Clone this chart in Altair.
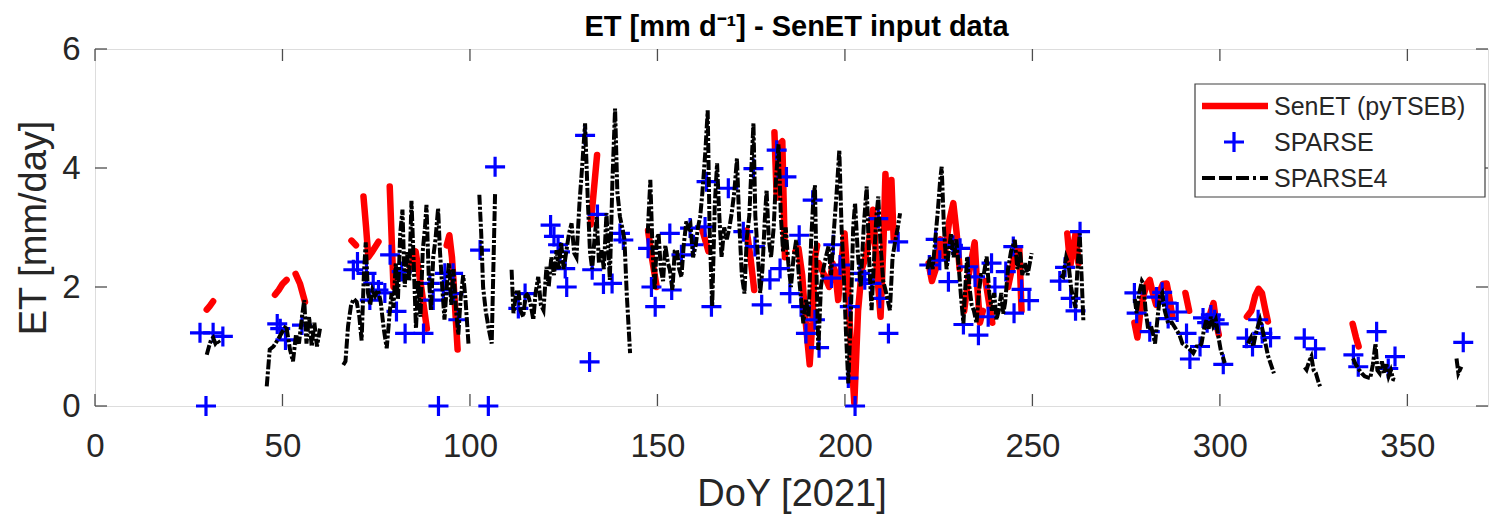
import altair as alt
import pandas as pd

# ---------------- data ----------------
# SPARSE4 (black dash-dot) segments: (DoY, ET mm/day)
s4_a = [(29.8,0.86),(30.4,1.0),(31.0,1.12),(31.5,1.15),(32.1,1.05),(32.7,1.1),(33.3,1.05)]
s4_b = [(45.8,0.33),(46.6,0.95),(47.6,1.0),(48.6,1.1),(50.0,1.25),(51.0,1.35),(52.0,0.95),(52.8,0.75),
        (53.6,1.2),(54.4,1.05),(55.2,1.5),(55.8,1.78),(56.4,1.05),(57.1,1.5),(57.8,1.0),(58.5,1.4),
        (59.2,1.0),(60.0,1.3)]
s4_c = [(66.2,0.69),(66.8,0.75),(67.5,1.35),(68.3,1.7),(69.0,1.8),(69.8,1.75),(70.5,1.5),(71.1,1.1),
        (71.7,2.2),(72.2,2.75),(72.8,1.9),(73.4,1.7),(74.0,1.95),(74.7,1.85),(75.5,1.95),(76.2,1.75),
        (77.0,1.3),(77.8,0.97),(78.5,1.5),(79.1,1.9),(79.6,1.65),(80.2,2.4),(80.8,1.8),(81.4,2.9),
        (82.0,3.3),(82.6,2.0),(83.2,2.6),(83.8,2.1),(84.4,3.45),(85.0,2.4),(85.6,1.3),(86.2,2.1),
        (86.8,1.5),(87.4,2.6),(88.0,3.0),(88.4,3.38),(89.0,2.2),(89.6,1.6),(90.2,2.5),(90.8,2.8),
        (91.5,3.32),(92.0,2.6),(92.6,2.0),(93.2,1.45),(93.8,2.0),(94.4,2.4),(95.0,1.7),(95.6,2.3),
        (96.3,1.6),(96.9,1.2),(97.5,1.8),(98.2,2.2),(98.8,1.8),(99.6,1.05)]
s4_d = [(102.5,3.55),(103.0,2.9),(103.5,2.0),(104.2,1.6),(105.0,1.3),(105.8,1.05),(106.2,2.2),(106.7,3.58)]
s4_e = [(111.1,2.29),(111.6,1.56),(112.3,1.9),(112.9,1.95),(113.5,1.6),(114.2,1.5),(114.9,1.9),
        (115.6,1.84),(116.2,1.7),(116.9,1.45),(117.5,1.9),(118.2,2.17),(118.9,1.7),(119.6,1.61),
        (120.4,2.34),(121.0,2.0),(121.7,2.5),(122.4,2.2),(123.1,2.62),(123.7,2.3),(124.3,2.75),
        (125.0,2.3),(125.7,2.6),(126.4,2.9),(127.1,3.07),(127.8,2.57),(128.4,2.5),(129.2,3.4),
        (130.0,4.1),(130.7,4.75),(131.4,3.5),(132.0,2.6),(132.6,2.3),(133.2,2.8),(133.8,3.18),
        (134.4,2.4),(135.1,2.62),(135.7,2.3),(136.4,3.24),(137.0,2.5),(137.3,2.12),(138.0,3.8),
        (138.7,5.0),(139.3,3.6),(140.0,3.18),(140.6,3.0),(141.2,2.8),(141.8,1.9),(142.7,0.89)]
s4_f = [(147.4,2.9),(148.1,3.8),(148.7,2.6),(149.3,1.95),(149.8,2.8),(150.3,2.9),(150.9,2.3),(151.5,2.1),
        (152.1,2.7),(152.8,2.4),(153.3,2.29),(154.0,1.95),(154.6,2.6),(155.2,2.62),(155.8,2.3),(156.4,2.17),
        (157.0,2.7),(157.7,3.1),(158.3,3.0),(158.8,3.05),(159.5,2.5),(160.2,2.7),(160.8,3.0),(161.4,3.18),
        (162.0,3.6),(162.8,4.3),(163.4,4.97),(163.9,3.0),(164.6,1.67),(165.3,3.4),(165.9,4.08),(166.5,3.2),
        (167.1,2.5),(167.8,3.0),(168.5,2.8),(169.2,3.0),(169.8,3.24),(170.5,3.6),(171.2,4.16),(171.8,3.1),
        (172.5,2.2),(173.2,1.89),(173.8,2.8),(174.5,3.2),(175.2,4.2),(175.6,4.75),(176.1,3.2),(176.8,2.5),
        (177.4,1.9),(178.0,2.3),(178.6,3.1),(179.1,3.63),(179.7,2.8),(180.3,2.5),(181.0,3.0),(181.6,3.8),
        (182.3,4.4),(182.9,3.2),(183.5,2.6),(184.2,3.0),(184.9,2.4),(185.6,2.0),(186.3,2.5),(187.0,2.79),
        (187.7,2.2),(188.3,1.8),(188.9,1.39),(189.6,1.8),(190.3,1.5),(191.0,2.8),(191.6,3.5),(192.0,3.71),
        (192.5,2.0),(192.9,0.94),(193.6,2.0),(194.2,2.29),(194.9,2.5),(195.6,2.68),(196.3,2.2),(197.0,2.9),
        (197.8,3.6),(198.5,4.3),(199.1,3.0),(199.7,2.2),(200.3,1.2),(200.9,0.38),(201.6,1.6),(202.2,3.0),
        (202.7,3.41),(203.4,2.6),(204.2,2.0),(205.0,3.0),(205.8,3.69),(206.5,2.4),(207.1,1.61),(207.8,2.5),
        (208.4,3.2),(208.9,3.52),(209.5,2.7),(210.2,2.1),(211.0,1.9),(212.0,1.61),(212.7,2.5),(213.5,2.8),
        (214.1,3.0),(214.7,3.24)]
s4_g = [(222.0,2.3),(222.7,2.5),(223.4,2.3),(224.1,2.8),(224.8,3.3),(225.4,3.8),(225.8,4.02),(226.4,3.0),
        (227.1,2.3),(227.7,2.6),(228.3,2.9),(229.0,2.5),(229.7,2.8),(230.4,2.3),(231.0,1.8),(231.6,1.39),
        (232.2,2.1),(232.6,2.51),(233.2,2.0),(233.8,1.7),(234.4,1.6),(235.1,1.39),(235.7,1.9),(236.3,2.2),
        (237.0,2.2),(237.8,2.51),(238.5,1.9),(239.2,1.6),(239.8,1.9),(240.4,1.45),(241.0,1.6),(241.7,1.9),
        (242.2,1.55),(242.7,1.73),(243.5,2.3),(244.3,2.6),(245.3,2.79),(246.0,2.3),(246.7,2.6),(247.3,2.2),
        (248.0,2.4),(248.7,2.2),(249.3,2.4),(249.8,2.57)]
s4_h = [(257.5,2.2),(258.2,2.17),(259.0,2.5),(259.6,2.4),(260.3,2.0),(260.9,1.8),(261.5,1.65),(262.0,2.3),
        (262.6,2.9),(263.1,2.2),(263.6,1.42)]
s4_i = [(277.3,1.8),(277.8,1.56),(278.5,1.9),(279.2,2.1),(279.6,2.06),(280.2,1.6),(280.9,1.28),(281.6,1.35),
        (282.2,1.2),(282.7,1.05),(283.4,1.5),(284.0,1.84),(284.6,1.9),(285.3,1.6),(286.2,1.39),(287.2,1.4),
        (288.4,1.28),(289.2,1.2),(290.0,1.05),(291.1,1.0),(292.0,0.95),(292.9,0.89),(293.8,1.0),(294.6,1.0),
        (295.1,1.05),(295.8,1.3),(296.4,1.45),(297.0,1.3),(297.6,1.5),(298.2,1.35),(298.9,1.45),(299.5,1.2),
        (300.2,0.95),(301.3,0.72)]
s4_j = [(307.5,1.05),(308.3,1.15),(308.9,1.0),(309.5,1.2),(310.2,1.35),(310.7,1.45),(311.3,1.3),(312.0,1.1),
        (312.8,0.85),(313.6,0.7),(314.4,0.55)]
s4_k = [(322.6,0.65),(323.1,0.61),(323.8,0.75),(324.4,0.83),(325.0,0.6),(325.6,0.55),(326.2,0.42),(326.7,0.33)]
s4_l = [(335.5,0.8),(336.2,0.7),(337.0,0.62),(337.8,0.55),(338.6,0.5),(339.4,0.48),(340.1,0.47),(340.8,0.7),
        (341.5,1.05),(342.0,0.6),(342.6,0.55),(343.2,0.75),(343.8,0.55),(344.4,0.7),(345.0,0.5),(345.6,0.6),
        (346.2,0.45),(346.7,0.44)]
s4_m = [(363.1,0.8),(363.6,0.55),(364.4,0.66)]

# SenET (pyTSEB) red segments
r01 = [(29.8,1.62),(30.6,1.68),(31.5,1.76)]
r02 = [(48.0,1.87),(49.0,1.95),(50.0,2.05),(51.1,2.12)]
r03 = [(53.5,2.22),(54.7,2.05),(56.0,1.75)]
r04 = [(68.4,2.78),(69.6,2.7)]
r05 = [(71.6,3.52),(72.3,3.0),(72.9,2.5),(74.0,2.6),(75.6,2.76)]
r06 = [(78.6,3.69),(79.6,2.0)]
r07 = [(84.0,2.3),(85.5,2.6),(87.0,2.0),(88.5,1.3)]
r08 = [(93.8,2.7),(94.5,2.87),(95.2,2.5),(95.9,1.8),(96.7,0.95)]
r09 = [(132.2,3.05),(133.9,4.22)]
r10 = [(147.5,2.95),(148.5,2.5),(149.8,2.0)]
r11 = [(162.0,2.95),(163.6,2.6)]
r12 = [(173.8,2.95),(174.8,2.5),(175.8,1.95)]
r13 = [(181.2,4.6),(181.8,3.5),(182.5,4.4),(183.3,4.45),(184.0,2.5)]
r14 = [(186.8,2.6),(187.6,2.65),(188.6,2.2),(189.4,1.5),(190.6,0.7),(191.3,1.4),(192.0,2.5),(192.6,2.7)]
r15 = [(193.0,2.4),(194.5,2.2),(195.8,2.0),(196.7,2.4),(197.5,2.2),(198.2,1.78),(199.2,2.5),(199.9,2.9),
       (200.8,2.0),(201.6,1.0),(202.5,0.05),(203.5,1.6),(204.5,2.3),(205.5,2.5),(206.5,2.8),(207.5,3.3),
       (208.5,2.3),(209.5,1.5),(210.3,2.8),(210.8,3.9),(211.6,3.0),(212.4,3.8),(213.0,2.8)]
r16 = [(222.3,2.4),(223.2,2.1),(224.2,2.3),(225.5,2.8),(226.5,2.5),(227.8,3.1),(228.9,3.41),(229.8,2.9),(230.6,2.3)]
r17 = [(231.8,1.6),(233.0,2.2),(234.6,2.75),(235.3,2.0),(236.0,1.4),(236.8,1.6)]
r18 = [(237.5,2.1),(238.5,1.7),(239.3,1.4)]
r19 = [(243.5,2.0),(244.5,2.3),(245.5,2.6),(246.5,2.65),(247.1,1.6)]
r20 = [(259.3,2.9),(260.1,2.35),(261.5,2.9),(262.3,2.4)]
r21 = [(277.2,1.4),(278.0,1.15),(278.8,1.6),(279.6,1.85),(280.5,2.05),(281.3,2.12),(282.1,1.9),(283.0,1.7),
       (283.8,1.9),(284.8,2.05),(285.8,2.06),(286.6,1.8),(287.3,1.5)]
r22 = [(290.8,1.9),(291.8,1.6)]
r23 = [(296.5,1.4),(297.4,1.55),(298.3,1.73),(299.0,1.4),(299.7,1.2)]
r24 = [(307.2,1.5),(308.4,1.6),(309.4,1.85),(310.3,1.97),(311.2,1.9),(312.0,1.65),(312.8,1.42)]
r25 = [(335.4,1.38),(336.3,1.15),(337.0,1.0)]

# SPARSE (blue +)
sparse_doy = [28.0,29.6,31.5,34.1,48.6,49.4,50.8,55.2,68.9,70.0,72.4,73.3,74.2,75.6,77.3,78.7,80.4,81.8,
              82.7,87.6,89.3,90.2,91.6,92.9,93.3,95.5,95.6,96.9,102.7,104.9,106.7,112.9,114.7,121.5,122.4,
              123.5,124.0,125.4,125.8,130.7,131.9,132.6,134.0,135.6,137.9,140.0,140.9,147.5,148.4,149.4,
              153.3,153.8,156.4,158.7,159.6,162.7,163.1,164.4,168.9,172.9,175.6,176.0,177.8,180.0,181.8,
              182.7,184.4,185.3,187.8,188.3,189.6,191.4,192.0,193.1,196.4,196.9,198.7,200.9,201.3,202.7,
              204.0,205.3,207.1,208.9,209.3,211.6,214.2,222.5,224.2,225.3,227.6,228.8,230.7,231.6,232.9,
              234.7,235.6,238.2,239.1,240.0,242.9,244.9,245.1,247.1,249.1,257.3,258.7,260.2,261.5,262.7,
              277.2,277.8,281.3,283.1,284.6,285.8,286.2,288.6,291.1,292.0,294.7,295.5,296.6,297.6,298.6,
              299.7,300.9,307.1,308.7,310.2,311.3,313.5,322.5,325.5,335.6,336.9,341.8,344.9,346.7,364.9]
sparse_et = [1.23,0.0,1.23,1.17,1.38,1.30,1.11,1.36,2.29,2.42,2.23,1.78,2.06,1.95,1.90,2.54,1.59,2.26,
             1.22,1.22,2.06,1.78,0.0,1.95,2.23,2.23,1.89,1.45,2.62,0.0,4.02,1.64,1.89,3.04,2.85,
             2.71,2.59,2.31,2.00,4.55,0.74,2.29,3.22,2.05,2.06,2.90,2.79,2.65,2.00,1.67,
             2.90,1.95,2.54,2.99,2.71,3.01,3.77,1.67,3.66,2.93,3.99,2.68,1.70,2.12,4.30,
             2.31,3.85,1.89,2.87,1.67,1.22,3.46,1.45,0.98,2.15,2.71,2.37,0.47,1.67,0.0,
             2.23,2.12,2.06,3.15,1.81,1.22,2.76,2.37,2.80,2.45,2.09,2.70,2.65,1.37,2.34,
             2.17,1.19,1.50,2.40,2.00,2.26,2.68,1.56,1.96,1.77,2.10,2.33,1.81,1.60,2.93,
             1.90,1.56,1.25,1.83,1.91,1.73,1.47,1.58,1.22,0.79,1.00,1.48,1.40,1.53,1.45,
             1.38,0.70,1.14,1.00,1.45,1.22,1.15,1.14,0.96,0.86,0.66,1.25,0.63,0.83,1.07]

x_ticks = [0, 50, 100, 150, 200, 250, 300, 350]
y_ticks = [0, 2, 4, 6]
legend_labels = ["SenET (pyTSEB)", "SPARSE", "SPARSE4"]
title_text = "ET [mm d⁻¹] - SenET input data"

# ---------------- build tables ----------------
def to_df(segments):
    rows = []
    for sid, seg in enumerate(segments):
        for k, (d, v) in enumerate(seg):
            rows.append({"seg": sid, "k": k, "doy": d, "et": v})
    return pd.DataFrame(rows)

s4_df = to_df([s4_a, s4_b, s4_c, s4_d, s4_e, s4_f, s4_g, s4_h, s4_i, s4_j, s4_k, s4_l, s4_m])
red_df = to_df([r01, r02, r03, r04, r05, r06, r07, r08, r09, r10, r11, r12, r13, r14, r15, r16, r17,
                r18, r19, r20, r21, r22, r23, r24, r25])
sp_df = pd.DataFrame({"doy": sparse_doy, "et": sparse_et})

W, H = 1393, 357
FONT = "Liberation Sans"
GREY = "#262626"
PLUS = "M-1,0L1,0M0,-1L0,1"
DASH = [10, 2, 3, 2]

xs = alt.Scale(domain=[0, 371.5], nice=False, zero=False)
ys = alt.Scale(domain=[0, 6], nice=False, zero=False)

x_axis = alt.Axis(values=x_ticks, format="d", ticks=False, tickSize=0, domain=False, grid=False,
                  labelFlush=False, labelFontSize=33, labelFont=FONT, labelColor=GREY, labelPadding=24,
                  title="DoY [2021]", titleFont=FONT, titleFontSize=38, titleFontWeight="normal",
                  titleColor=GREY, titleX=W / 2, titleY=99, titleBaseline="alphabetic", titleAlign="center")
y_axis = alt.Axis(values=y_ticks, format="d", ticks=False, tickSize=0, domain=False, grid=False,
                  labelFlush=False, labelFontSize=33, labelFont=FONT, labelColor=GREY, labelPadding=15,
                  title="ET [mm/day]", titleFont=FONT, titleFontSize=38, titleFontWeight="normal",
                  titleColor=GREY, titleX=-50, titleY=H / 2, titleBaseline="alphabetic", titleAlign="center",
                  titleAngle=270)

red = alt.Chart(red_df).mark_line(color="#ff0000", strokeWidth=6.5, strokeJoin="round", strokeCap="round").encode(
    x=alt.X("doy:Q", scale=xs, axis=x_axis),
    y=alt.Y("et:Q", scale=ys, axis=y_axis),
    detail="seg:N",
    order="k:Q",
)

blue = alt.Chart(sp_df).mark_point(shape=PLUS, size=400, filled=False, stroke="#0000ff", strokeWidth=3.2,
                                   opacity=1).encode(
    x=alt.X("doy:Q", scale=xs),
    y=alt.Y("et:Q", scale=ys),
)

black = alt.Chart(s4_df).mark_line(color="black", strokeWidth=4, strokeDash=DASH).encode(
    x=alt.X("doy:Q", scale=xs),
    y=alt.Y("et:Q", scale=ys),
    detail="seg:N",
    order="k:Q",
)

# inward tick marks on all four sides
xt_df = pd.DataFrame({"v": x_ticks})
yt_df = pd.DataFrame({"v": y_ticks})
tick_style = dict(color="#4d4d4d", strokeWidth=1.3)
tb = alt.Chart(xt_df).mark_rule(**tick_style).encode(x=alt.X("v:Q", scale=xs), y=alt.value(H), y2=alt.value(H - 12))
tt = alt.Chart(xt_df).mark_rule(**tick_style).encode(x=alt.X("v:Q", scale=xs), y=alt.value(0), y2=alt.value(12))
tl = alt.Chart(yt_df).mark_rule(**tick_style).encode(y=alt.Y("v:Q", scale=ys), x=alt.value(0), x2=alt.value(12))
tr = alt.Chart(yt_df).mark_rule(**tick_style).encode(y=alt.Y("v:Q", scale=ys), x=alt.value(W), x2=alt.value(W - 12))

# title as a text mark above the plot
title = alt.Chart(pd.DataFrame({"t": [title_text]})).mark_text(
    align="center", baseline="alphabetic", font=FONT, fontSize=29, fontWeight="bold", color="black").encode(
    x=alt.value(W / 2 + 5), y=alt.value(-13), text="t:N")

# legend
one = pd.DataFrame({"label": [legend_labels[0]]})
box = alt.Chart(one).mark_rect(fill="white", stroke="#404040", strokeWidth=1.2).encode(
    x=alt.value(1100), x2=alt.value(1390), y=alt.value(35), y2=alt.value(148))
lg_red = alt.Chart(one).mark_rule(color="#ff0000", strokeWidth=6.5).encode(
    x=alt.value(1107), x2=alt.value(1173), y=alt.value(57))
lg_blue = alt.Chart(one).mark_point(shape=PLUS, size=400, filled=False, stroke="#0000ff", strokeWidth=3.2,
                                    opacity=1).encode(x=alt.value(1139), y=alt.value(93))
lg_black = alt.Chart(one).mark_rule(color="black", strokeWidth=4, strokeDash=[13, 4, 13, 4, 13, 4, 3, 4]).encode(
    x=alt.value(1107), x2=alt.value(1173), y=alt.value(129))
texts = []
for lab, yy in zip(legend_labels, [66, 102, 138]):
    texts.append(alt.Chart(pd.DataFrame({"label": [lab]})).mark_text(
        align="left", baseline="alphabetic", font=FONT, fontSize=25, color=GREY).encode(
        x=alt.value(1179), y=alt.value(yy), text="label:N"))

chart = alt.layer(red, blue, black, tb, tt, tl, tr, box, lg_red, lg_blue, lg_black, *texts, title).properties(
    width=W, height=H,
    autosize=alt.AutoSizeParams(type="none"),
    padding={"left": 95, "top": 49, "right": 1, "bottom": 109},
).configure_view(stroke="#4d4d4d", strokeWidth=1.3).configure(background="white")

chart.save("out.html", embed_options={"renderer": "svg", "actions": False})
